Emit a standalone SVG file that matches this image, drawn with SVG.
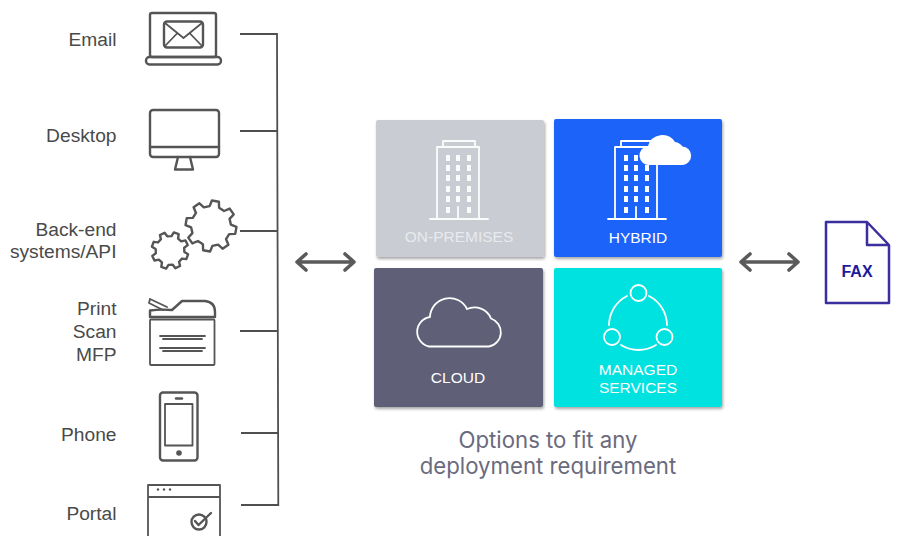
<svg xmlns="http://www.w3.org/2000/svg" xmlns:xlink="http://www.w3.org/1999/xlink" width="898" height="536" viewBox="0 0 898 536">
<style>
text{font-family:"Liberation Sans",Arial,sans-serif}
.lbl{font-size:19.200px;fill:#4a4a4a;text-anchor:end}
.ic{fill:none;stroke:#555;stroke-width:2.400;stroke-linejoin:round;stroke-linecap:round}
.thin{stroke-width:1.800}
.conn{fill:none;stroke:#4f4f4f;stroke-width:1.800}
.arrow{fill:none;stroke:#5a5a5a;stroke-width:3.600;stroke-linecap:round;stroke-linejoin:round}
.w{fill:none;stroke:#fff;stroke-width:1.800;stroke-linejoin:round;stroke-linecap:round}
.win{fill:#fff}
.tl{font-size:15.500px;fill:#fff;text-anchor:middle}
.cap{font-family:Inter,sans-serif;font-size:22.200px;fill:#6a6a7e;text-anchor:middle}
</style>
<defs>
<filter id="sh" x="-5%" y="-5%" width="110%" height="110%"><feDropShadow dx="1" dy="2" stdDeviation="1.500" flood-color="#000" flood-opacity=".35"/></filter>
<path id="gear" vector-effect="non-scaling-stroke" d="M75.700-18.900L99-13.900L99 13.900L75.700 18.900L66.900 40.200L79.900 60.200L60.200 79.900L40.200 66.900L18.900 75.700L13.900 99L-13.900 99L-18.900 75.700L-40.200 66.900L-60.200 79.900L-79.900 60.200L-66.900 40.200L-75.700 18.900L-99 13.900L-99-13.900L-75.700-18.900L-66.900-40.200L-79.900-60.200L-60.200-79.900L-40.200-66.900L-18.900-75.700L-13.900-99L13.900-99L18.900-75.700L40.200-66.900L60.200-79.900L79.900-60.200L66.900-40.200Z"/>
<g id="tower">
<path class="w" d="M-39 72H19M-32 72V0H10V72M-26 0V-6H6V0M-11 72V60"/>
<path class="win" d="M-23 8h4v6h-4zM-13 8h4v6h-4zM-2 8h4v6h-4zM-23 18h4v6h-4zM-13 18h4v6h-4zM-2 18h4v6h-4zM-23 28h4v6h-4zM-13 28h4v6h-4zM-2 28h4v6h-4zM-23 39h4v6h-4zM-13 39h4v6h-4zM-2 39h4v6h-4zM-23 49h4v6h-4zM-13 49h4v6h-4zM-2 49h4v6h-4zM-23 60h4v6h-4zM-2 60h4v6h-4z"/>
</g>
</defs>
<rect width="898" height="536" fill="#fff"/>
<g id="connectors">
<path class="conn" d="M240 34H277L278.300 505H241M240 131H277.300M240 231H277.700M240 331H278M241 433H278"/>
<path class="arrow" d="M297 262H354M306 254L297 262L306 270M345 254L354 262L345 270"/>
<path class="arrow" d="M741 262H798M750 254L741 262L750 270M789 254L798 262L789 270"/>
</g>
<g id="email">
<text class="lbl" x="116.500" y="46">Email</text>
<rect class="ic" x="150" y="13" width="66" height="44" rx="2"/>
<rect class="ic" x="146" y="57" width="75" height="7.500" rx="3.500"/>
<rect class="ic" x="164" y="21.500" width="39" height="26" rx="3"/>
<path class="ic thin" d="M165 23L183.500 38L202 23M165 46L177 33.500M202 46L190 33.500"/>
</g>
<g id="desktop">
<text class="lbl" x="116.500" y="142">Desktop</text>
<rect class="ic" x="150" y="110" width="69" height="47" rx="3"/>
<path class="ic" d="M150 147H219M178 157L175 169.500H193L190 157"/>
</g>
<g id="backend">
<text class="lbl" x="116.500" y="236">Back-end</text>
<text class="lbl" x="116.500" y="258">systems/API</text>
<use xlink:href="#gear" href="#gear" class="ic" transform="translate(211 226) rotate(10) scale(.255)"/>
<use xlink:href="#gear" href="#gear" class="ic" transform="translate(170 250.500) rotate(20) scale(.185)"/>
</g>
<g id="print">
<text class="lbl" x="116.500" y="315">Print</text>
<text class="lbl" x="116.500" y="338">Scan</text>
<text class="lbl" x="116.500" y="361">MFP</text>
<rect class="ic thin" x="150" y="319.500" width="64.500" height="45.500" rx="1"/>
<path class="ic" d="M150 317V310.500Q160 309 172 310L182 301H205Q215 302 215 312V317Z"/>
<path class="ic thin" d="M150 299L167 307M150 299L149 303L163 310"/>
<path class="ic thin" d="M160 336H205M163 339H202M160 348H205M163 351H202"/>
</g>
<g id="phone">
<text class="lbl" x="116.500" y="441">Phone</text>
<rect class="ic" x="160" y="392.500" width="37.500" height="68" rx="3"/>
<rect class="ic thin" x="165" y="404" width="27.500" height="41.500"/>
<path class="ic" d="M176 398.500H182"/>
<circle cx="179" cy="453" r="2.800" fill="#555"/>
</g>
<g id="portal">
<text class="lbl" x="116.500" y="520">Portal</text>
<path class="ic thin" d="M148 536V485H220V536M148 497H220"/>
<circle cx="158" cy="489.500" r="1.200" fill="#555"/><circle cx="164" cy="489.500" r="1.200" fill="#555"/><circle cx="170" cy="489.500" r="1.200" fill="#555"/>
<circle class="ic" cx="199" cy="522" r="7.500"/>
<path class="ic" d="M195 521L198.500 525L211 513"/>
</g>
<g id="on-premises">
<rect x="376" y="120" width="168" height="137" rx="2" fill="#c9ccd3" filter="url(#sh)"/>
<use href="#tower" xlink:href="#tower" transform="translate(469 147)" opacity=".95"/>
<text class="tl" x="459" y="242" style="fill:#e8eaee">ON-PREMISES</text>
</g>
<g id="hybrid">
<rect x="554" y="119" width="168" height="138" rx="2" fill="#1e64fa" filter="url(#sh)"/>
<use href="#tower" xlink:href="#tower" transform="translate(647 147)"/>
<path fill="#fff" d="M650 165A9.500 9.500 0 0 1 648 146A15 15 0 0 1 675 142A12 12 0 0 1 682.500 146.500A9.300 9.300 0 0 1 683 165Z"/>
<text class="tl" x="638" y="243">HYBRID</text>
</g>
<g id="cloud">
<rect x="374" y="268" width="169" height="139" rx="2" fill="#5f5f78" filter="url(#sh)"/>
<path class="w" d="M429 346.500H489A14.500 14.500 0 0 0 491 318.500A18 18 0 0 0 467 309A19.500 19.500 0 0 0 430 317A15 15 0 0 0 429 346.500Z"/>
<text class="tl" x="458" y="383">CLOUD</text>
</g>
<g id="managed">
<rect x="554" y="268" width="168" height="139" rx="2" fill="#00e2e0" filter="url(#sh)"/>
<circle class="w" cx="638.500" cy="293" r="8"/>
<circle class="w" cx="612" cy="337" r="8"/>
<circle class="w" cx="664.500" cy="337" r="8"/>
<path class="w" d="M627 296A33 33 0 0 0 609 325M649 296A33 33 0 0 1 667 325M621 345A33 33 0 0 0 656 345"/>
<text class="tl" x="638" y="375">MANAGED</text>
<text class="tl" x="638" y="393">SERVICES</text>
</g>
<g id="caption">
<text class="cap" x="548" y="448">Options to fit any</text>
<text class="cap" x="548" y="474">deployment requirement</text>
</g>
<g id="fax">
<path fill="none" stroke="#3b2fa0" stroke-width="2.500" stroke-linejoin="round" d="M826 222H867L889 245V303H826ZM867 222V245H889"/>
<text x="857" y="277" font-size="16" font-weight="700" fill="#1d1a9c" text-anchor="middle">FAX</text>
</g>
</svg>
